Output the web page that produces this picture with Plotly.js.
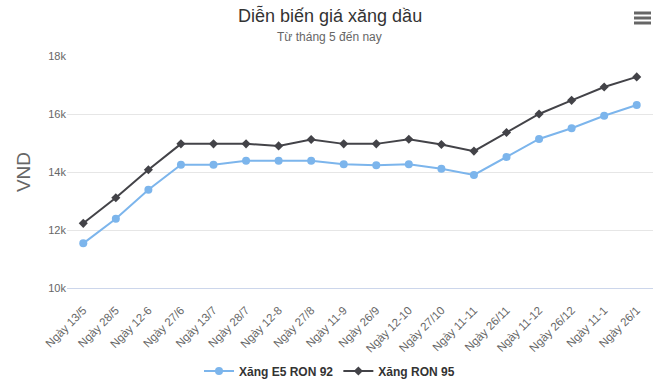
<!DOCTYPE html>
<html>
<head>
<meta charset="utf-8">
<script src="https://cdn.plot.ly/plotly-3.0.1.min.js"></script>
<style>html,body{margin:0;padding:0;background:#fff;}#chart{width:659px;height:387px;}</style>
</head>
<body>
<div id="chart"></div>
<script>
const categories = ["Ngày 13/5","Ngày 28/5","Ngày 12-6","Ngày 27/6","Ngày 13/7","Ngày 28/7","Ngày 12-8","Ngày 27/8","Ngày 11-9","Ngày 26/9","Ngày 12-10","Ngày 27/10","Ngày 11-11","Ngày 26/11","Ngày 11-12","Ngày 26/12","Ngày 11-1","Ngày 26/1"];
const e5Ron92 = [11540,12390,13390,14250,14250,14390,14390,14390,14270,14230,14270,14110,13900,14520,15140,15510,15940,16310];
const ron95 = [12230,13110,14080,14970,14970,14970,14900,15120,14970,14970,15130,14950,14720,15360,16000,16470,16930,17280];
const yTicks = [10000,12000,14000,16000,18000];
const yTickLabels = ["10k","12k","14k","16k","18k"];

const font = "'Liberation Sans', Arial, sans-serif";
const traces = [
  {x: categories, y: e5Ron92, name: "Xăng E5 RON 92", type: "scatter", mode: "lines+markers",
   line: {color: "#7cb5ec", width: 2}, marker: {symbol: "circle", size: 8, color: "#7cb5ec"}},
  {x: categories, y: ron95, name: "Xăng RON 95", type: "scatter", mode: "lines+markers",
   line: {color: "#434348", width: 2}, marker: {symbol: "diamond", size: 7, color: "#434348"}}
];
const py = p => (288 - p) / 232;
const px = p => (p - 67) / 586;
const layout = {
  width: 659, height: 387,
  margin: {l: 67, r: 6, t: 56, b: 99, autoexpand: false},
  paper_bgcolor: "#fff", plot_bgcolor: "#fff",
  font: {family: font, color: "#666", size: 11},
  xaxis: {type: "category", range: [-0.5, 17.5], tickangle: -45, showgrid: false, automargin: false,
          showline: true, linecolor: "#ccd6eb", linewidth: 1, ticks: "", ticklabelstandoff: 10,
          tickfont: {size: 11.5, color: "#666", family: font}, zeroline: false},
  yaxis: {range: [10000, 18000], tickvals: yTicks, ticktext: yTickLabels, showgrid: true, gridcolor: "#e6e6e6", automargin: false,
          zeroline: false, showline: false, ticks: "", tickfont: {size: 11, color: "#666", family: font},
          title: {text: "VND", font: {size: 19, color: "#666", family: font}, standoff: 12}},
  showlegend: true,
  legend: {orientation: "h", x: 0.5, xanchor: "center", xref: "container", yref: "container", y: (387 - 371) / 387, yanchor: "middle",
           font: {family: font, size: 12, color: "#333", weight: "bold"}, itemwidth: 30},
  annotations: [
    {text: "Diễn biến giá xăng dầu", xref: "paper", yref: "paper", x: px(329.5), y: py(15), xanchor: "center", yanchor: "middle",
     showarrow: false, font: {family: font, size: 18, color: "#333"}},
    {text: "Từ tháng 5 đến nay", xref: "paper", yref: "paper", x: px(329.5), y: py(37), xanchor: "center", yanchor: "middle",
     showarrow: false, font: {family: font, size: 12, color: "#666"}}
  ],
  shapes: [
    {type: "rect", xref: "paper", yref: "paper", x0: px(634), x1: px(651), y0: py(14.5), y1: py(11.5), fillcolor: "#666", line: {width: 0}},
    {type: "rect", xref: "paper", yref: "paper", x0: px(634), x1: px(651), y0: py(19.5), y1: py(16.5), fillcolor: "#666", line: {width: 0}},
    {type: "rect", xref: "paper", yref: "paper", x0: px(634), x1: px(651), y0: py(24.5), y1: py(21.5), fillcolor: "#666", line: {width: 0}}
  ]
};
Plotly.newPlot("chart", traces, layout, {displayModeBar: false, staticPlot: true});
</script>
</body>
</html>
